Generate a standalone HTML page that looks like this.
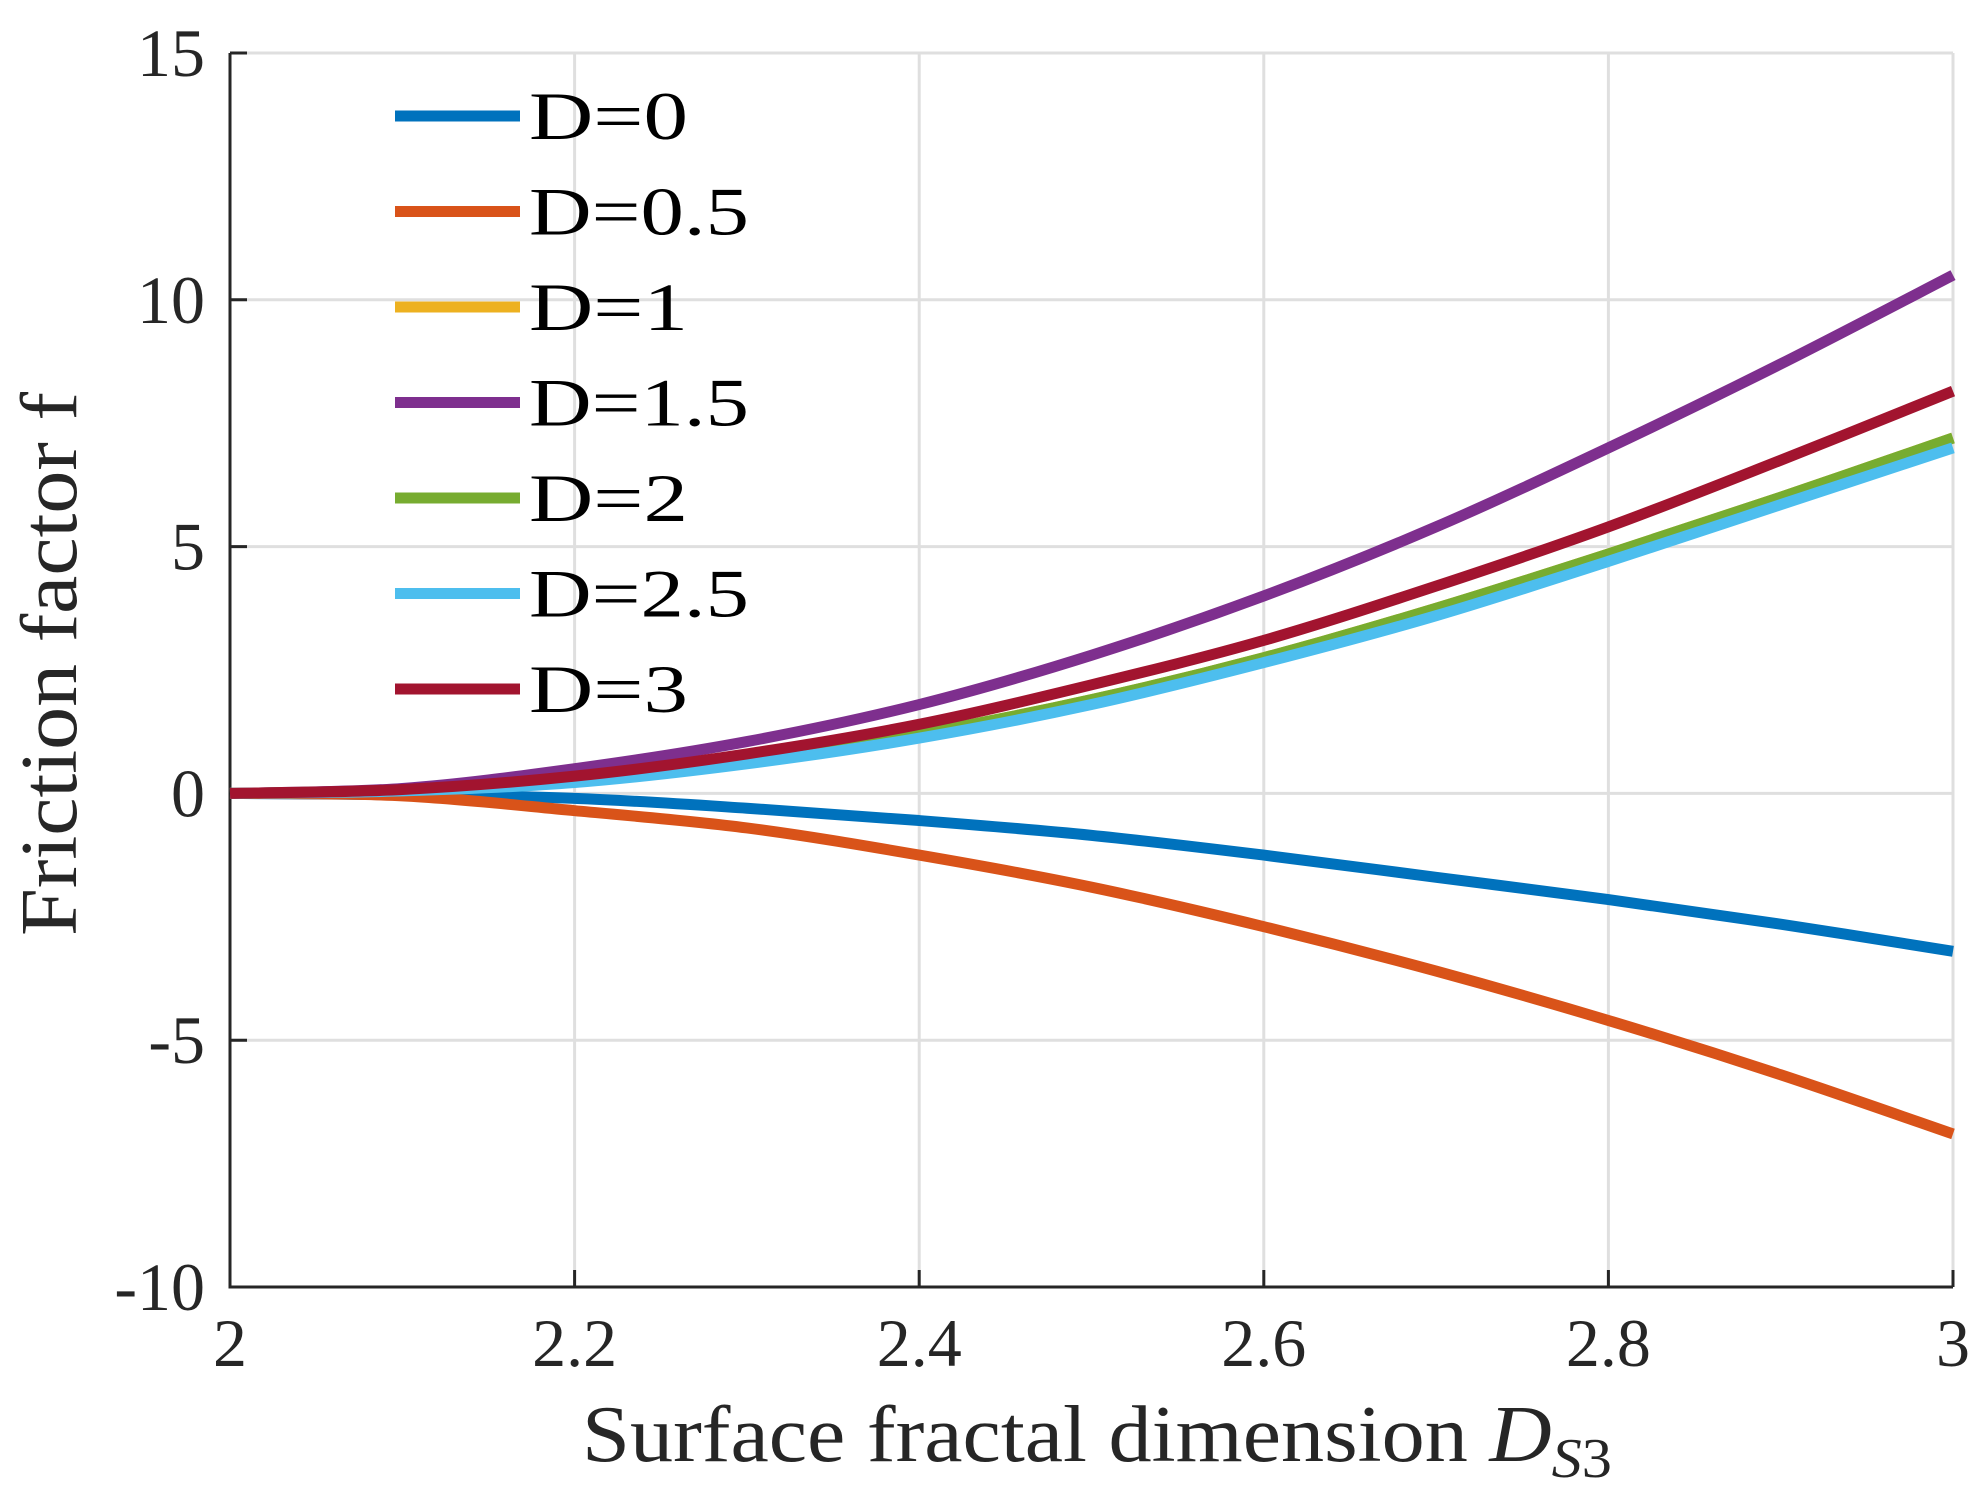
<!DOCTYPE html>
<html><head><meta charset="utf-8">
<style>
html,body{margin:0;padding:0;background:#fff;}
svg{display:block;font-family:"Liberation Serif",serif;}
</style></head>
<body>
<svg id="chart" width="1987" height="1493" viewBox="0 0 1987 1493">
<g id="grid"></g>
<g id="axes"></g>
<g id="series"></g>
<g id="legend"></g>
<text x="582" y="1461" font-size="80" fill="#262626" textLength="1030" lengthAdjust="spacingAndGlyphs">Surface fractal dimension <tspan font-style="italic">D</tspan><tspan font-style="italic" font-size="56" dy="16">S</tspan><tspan font-size="56">3</tspan></text>
<text transform="translate(76,664) rotate(-90)" font-size="80" text-anchor="middle" fill="#262626" textLength="544" lengthAdjust="spacingAndGlyphs">Friction factor f</text>
</svg>
<script>
const xTicks = [2, 2.2, 2.4, 2.6, 2.8, 3];
const xTickLabels = ["2", "2.2", "2.4", "2.6", "2.8", "3"];
const yTicks = [-10, -5, 0, 5, 10, 15];
const yTickLabels = ["-10", "-5", "0", "5", "10", "15"];
const xs = [2, 2.1, 2.2, 2.3, 2.4, 2.5, 2.6, 2.7, 2.8, 2.9, 3];
const seriesNames = ["D=0", "D=0.5", "D=1", "D=1.5", "D=2", "D=2.5", "D=3"];
const seriesColors = ["#0072bd", "#d95319", "#edb120", "#7e2f8e", "#77ac30", "#4dbeee", "#a2142f"];
const yD0 = [0, -0.03, -0.1, -0.3, -0.55, -0.85, -1.25, -1.7, -2.15, -2.65, -3.2];
const yD05 = [0, -0.05, -0.35, -0.7, -1.25, -1.9, -2.7, -3.6, -4.6, -5.7, -6.9];
const yD1 = [0, 0.06, 0.25, 0.65, 1.2, 1.9, 2.75, 3.75, 4.85, 6.0, 7.2];
const yD15 = [0, 0.1, 0.5, 1.05, 1.8, 2.8, 4.0, 5.4, 7.0, 8.7, 10.5];
const yD2 = [0, 0.06, 0.25, 0.65, 1.2, 1.9, 2.75, 3.75, 4.85, 6.0, 7.2];
const yD25 = [0, 0.05, 0.22, 0.6, 1.12, 1.8, 2.65, 3.6, 4.7, 5.85, 7.0];
const yD3 = [0, 0.08, 0.35, 0.8, 1.4, 2.2, 3.1, 4.2, 5.4, 6.75, 8.15];
const seriesValues = [yD0, yD05, yD1, yD15, yD2, yD25, yD3];

const L = 230, R = 1953, T = 53, B = 1287;
const xMin = 2, xMax = 3, yMin = -10, yMax = 15;
function sx(v){ return L + (v - xMin) / (xMax - xMin) * (R - L); }
function sy(v){ return B - (v - yMin) / (yMax - yMin) * (B - T); }
const NS = "http://www.w3.org/2000/svg";
function mk(tag, attrs, parent){ const e = document.createElementNS(NS, tag); for (const k in attrs) e.setAttribute(k, attrs[k]); parent.appendChild(e); return e; }

const grid = document.getElementById('grid');
const axes = document.getElementById('axes');
xTicks.forEach((t, i) => {
  const g = mk('line', {x1: sx(t), x2: sx(t), y1: T, y2: B, stroke: '#dfdfdf', 'stroke-width': 3}, grid);
  
  
  const tk = mk('line', {x1: sx(t), x2: sx(t), y1: B, y2: B - 17, stroke: '#262626', 'stroke-width': 3}, axes);
  
  
  const lb = mk('text', {x: sx(t), y: 1366, 'font-size': 68, 'text-anchor': 'middle', fill: '#262626'}, axes);
  lb.textContent = xTickLabels[i];
  
  
});
yTicks.forEach((t, i) => {
  const g = mk('line', {x1: L, x2: R, y1: sy(t), y2: sy(t), stroke: '#dfdfdf', 'stroke-width': 3}, grid);
  
  
  const tk = mk('line', {x1: L, x2: L + 17, y1: sy(t), y2: sy(t), stroke: '#262626', 'stroke-width': 3}, axes);
  
  
  const lb = mk('text', {x: 205, y: sy(t) + 23, 'font-size': 68, 'text-anchor': 'end', fill: '#262626'}, axes);
  lb.textContent = yTickLabels[i];
  
  
});
const ax = mk('path', {d: `M${L},${T} L${L},${B} L${R},${B}`, fill: 'none', stroke: '#262626', 'stroke-width': 3}, axes);



function smoothPath(px, py){
  let d = `M${px[0]},${py[0]}`;
  for (let i = 0; i < px.length - 1; i++) {
    const x0 = px[Math.max(i-1,0)], y0 = py[Math.max(i-1,0)];
    const x1 = px[i], y1 = py[i], x2 = px[i+1], y2 = py[i+1];
    const x3 = px[Math.min(i+2,px.length-1)], y3 = py[Math.min(i+2,px.length-1)];
    d += ` C${x1+(x2-x0)/6},${y1+(y2-y0)/6} ${x2-(x3-x1)/6},${y2-(y3-y1)/6} ${x2},${y2}`;
  }
  return d;
}
const series = document.getElementById('series');
const legend = document.getElementById('legend');
seriesValues.forEach((vals, s) => {
  const p = mk('path', {d: smoothPath(xs.map(sx), vals.map(sy)), fill: 'none', stroke: seriesColors[s], 'stroke-width': 11, 'stroke-linejoin': 'round'}, series);
  
  
  const ly = 116 + s * 95.5;
  const ll = mk('line', {x1: 395, x2: 520, y1: ly, y2: ly, stroke: seriesColors[s], 'stroke-width': 11}, legend);
  
  
  const lt = mk('text', {x: 529, y: ly + 23, 'font-size': 68, fill: '#000', textLength: seriesNames[s].length > 3 ? 220 : 159, lengthAdjust: 'spacingAndGlyphs'}, legend);
  lt.textContent = seriesNames[s];
  
  
});
</script>
</body></html>
